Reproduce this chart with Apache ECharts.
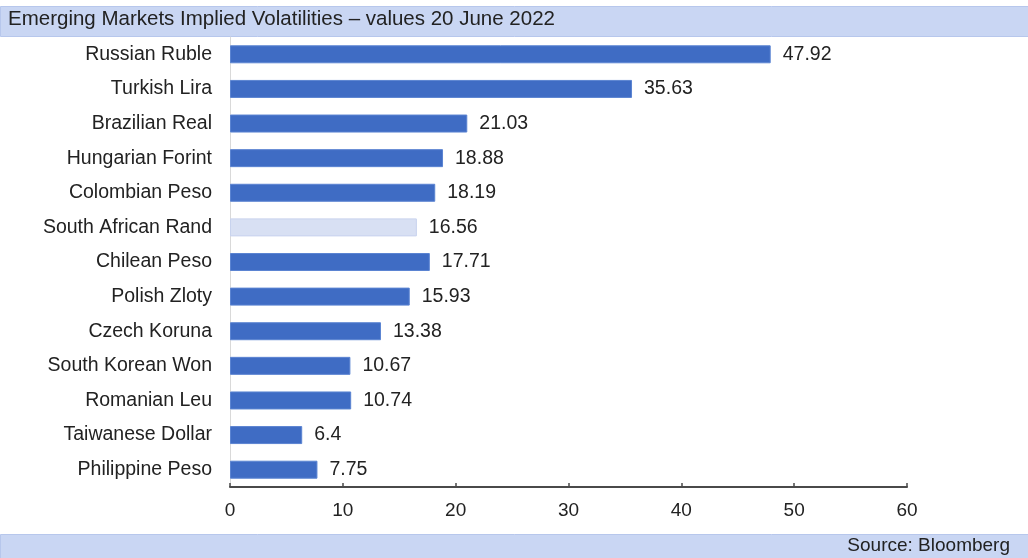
<!DOCTYPE html>
<html>
<head>
<meta charset="utf-8">
<style>
  html, body { margin: 0; padding: 0; background: #ffffff; }
  #chart { width: 1028px; height: 558px; }
</style>
<script src="https://cdn.jsdelivr.net/npm/echarts@6/dist/echarts.min.js"></script>
</head>
<body>
<div id="chart"></div>
<script>
// Currencies, top to bottom
const currencies = [
  'Russian Ruble', 'Turkish Lira', 'Brazilian Real', 'Hungarian Forint',
  'Colombian Peso', 'South African Rand', 'Chilean Peso', 'Polish Zloty',
  'Czech Koruna', 'South Korean Won', 'Romanian Leu', 'Taiwanese Dollar',
  'Philippine Peso'
];
// Implied volatility, %
const volatilities = [47.92, 35.63, 21.03, 18.88, 18.19, 16.56, 17.71, 15.93, 13.38, 10.67, 10.74, 6.4, 7.75];
const highlighted = 'South African Rand';
const axisTicks = [0, 10, 20, 30, 40, 50, 60];

const titleText = 'Emerging Markets Implied Volatilities \u2013 values 20 June 2022';
const sourceText = 'Source: Bloomberg';

const FONT = '"Liberation Sans", Arial, sans-serif';
const TEXT = '#222222';
const BAR = '#3f6cc4';
const BAR_LIGHT = '#d8e0f3';
const BAND = '#c9d6f3';

const chart = echarts.init(document.getElementById('chart'), null, { renderer: 'canvas' });

const barData = volatilities.map((v, i) => ({
  value: v,
  itemStyle: currencies[i] === highlighted
    ? { color: BAR_LIGHT, borderColor: '#c8d3ee', borderWidth: 1 }
    : { color: BAR, borderColor: '#5b84d2', borderWidth: 1 }
}));

chart.setOption({
  animation: false,
  textStyle: { fontFamily: FONT },
  grid: { left: 230, right: 121, top: 37, bottom: 71, containLabel: false },
  xAxis: {
    type: 'value',
    min: axisTicks[0],
    max: axisTicks[axisTicks.length - 1],
    interval: axisTicks[1] - axisTicks[0],
    axisLine: { show: true, lineStyle: { color: '#4a4a4a', width: 2 } },
    axisTick: { show: true, inside: true, length: 4, lineStyle: { color: '#4a4a4a', width: 1.5 } },
    axisLabel: { color: TEXT, fontSize: 19, fontFamily: FONT, margin: 14 },
    splitLine: { show: false }
  },
  yAxis: {
    type: 'category',
    inverse: true,
    data: currencies,
    axisLine: { show: true, lineStyle: { color: '#d9d9d9', width: 1 } },
    axisTick: { show: false },
    axisLabel: { color: TEXT, fontSize: 19.5, fontFamily: FONT, margin: 18 }
  },
  series: [{
    type: 'bar',
    data: barData,
    barWidth: 18,
    label: {
      show: true,
      position: 'right',
      distance: 12,
      color: TEXT,
      fontSize: 19.5,
      fontFamily: FONT,
      formatter: p => String(p.value)
    }
  }],
  graphic: [
    {
      type: 'rect',
      left: 0, top: 6,
      shape: { width: 1028, height: 30 },
      style: { fill: BAND, stroke: '#b7c7ec', lineWidth: 1 },
      z: 0
    },
    {
      type: 'text',
      left: 8, top: 9,
      style: { text: titleText, fill: TEXT, font: '20.5px ' + FONT },
      z: 1
    },
    {
      type: 'rect',
      left: 0, top: 534,
      shape: { width: 1028, height: 24 },
      style: { fill: BAND, stroke: '#b7c7ec', lineWidth: 1 },
      z: 0
    },
    {
      type: 'text',
      right: 18, top: 536,
      style: { text: sourceText, fill: TEXT, font: '19px ' + FONT },
      z: 1
    }
  ]
});
</script>
</body>
</html>
